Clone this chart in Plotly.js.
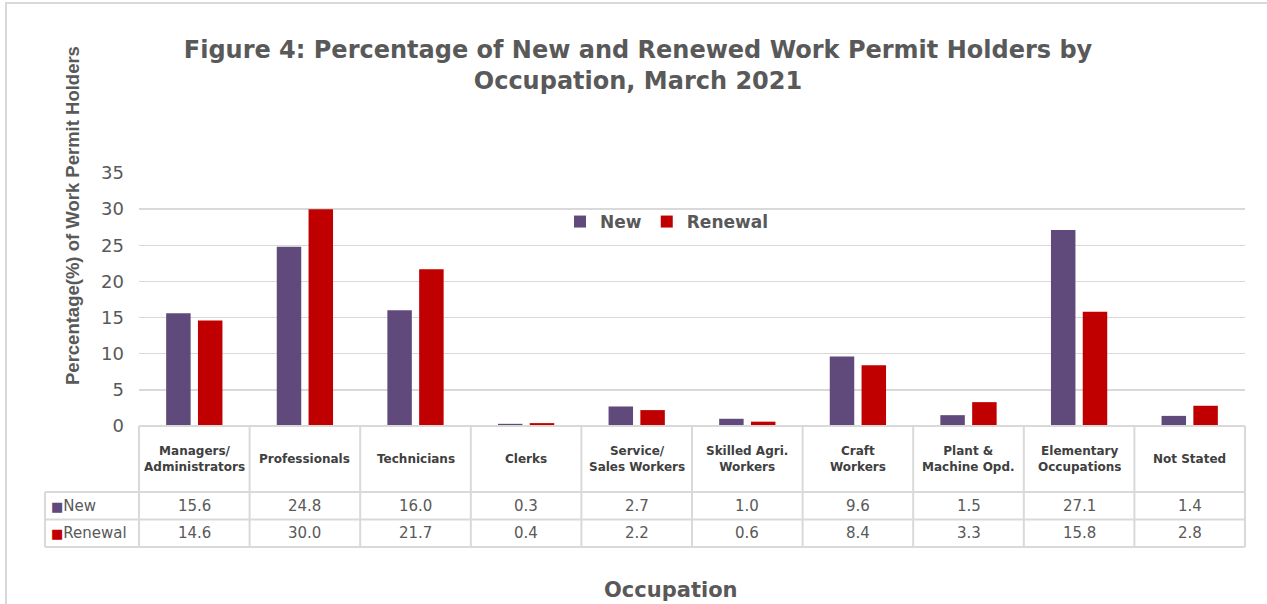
<!DOCTYPE html>
<html>
<head>
<meta charset="utf-8">
<script src="https://cdn.plot.ly/plotly-3.0.1.min.js"></script>
<style>html,body{margin:0;padding:0;background:#fff;}#chart{width:1267px;height:604px;}</style>
</head>
<body>
<div id="chart"></div>
<script>
// ---- data ----
var categories = ["Managers/<br>Administrators", "Professionals", "Technicians", "Clerks", "Service/<br>Sales Workers", "Skilled Agri.<br>Workers", "Craft<br>Workers", "Plant &<br>Machine Opd.", "Elementary<br>Occupations", "Not Stated"];
var newValues = [15.6, 24.8, 16.0, 0.3, 2.7, 1.0, 9.6, 1.5, 27.1, 1.4];
var renewalValues = [14.6, 30.0, 21.7, 0.4, 2.2, 0.6, 8.4, 3.3, 15.8, 2.8];
var seriesNames = ["New", "Renewal"];
var yTicks = [0, 5, 10, 15, 20, 25, 30, 35];

// ---- styling ----
var cNew = "#604A7B", cRen = "#C00000";
var txt = "#595959", grid = "#D9D9D9";
var FONT = "DejaVu Sans";
var W = 1267, H = 604, L = 139, R = 22, T = 173, B = 178;
var pw = W - L - R, ph = H - T - B;
function px2x(p) { return (p - L) / pw; }
function px2y(p) { return (H - B - p) / ph; }

var idx = categories.map(function (_, i) { return i; });
var traces = [
  {type: "bar", name: seriesNames[0], x: idx, y: newValues, marker: {color: cNew}, hoverinfo: "y"},
  {type: "bar", name: seriesNames[1], x: idx, y: renewalValues, marker: {color: cRen}, hoverinfo: "y"}
];

var shapes = [];
var ann = [];
var n = categories.length;
var lineStyle = {color: grid, width: 2};
// frame
shapes.push({type: "rect", xref: "paper", yref: "paper", x0: px2x(6), x1: px2x(1275), y0: px2y(3), y1: px2y(612), line: {color: grid, width: 2}});
// table vertical lines
for (var i = 0; i <= n; i++) {
  shapes.push({type: "line", xref: "paper", yref: "paper", x0: i / n, x1: i / n, y0: px2y(426), y1: px2y(547), line: lineStyle});
}
shapes.push({type: "line", xref: "paper", yref: "paper", x0: px2x(45), x1: px2x(45), y0: px2y(492), y1: px2y(547), line: lineStyle});
// horizontal lines
shapes.push({type: "line", xref: "paper", yref: "paper", x0: 0, x1: 1, y0: 0, y1: 0, line: lineStyle});
[492, 519.5, 547].forEach(function (p) {
  shapes.push({type: "line", xref: "paper", yref: "paper", x0: px2x(45), x1: 1, y0: px2y(p), y1: px2y(p), line: lineStyle});
});

// table text
for (var j = 0; j < n; j++) {
  var xc = (j + 0.5) / n;
  ann.push({xref: "paper", yref: "paper", x: xc, y: px2y(459), text: categories[j], showarrow: false,
    font: {family: FONT, size: 12, color: "#404040", weight: "bold"}, xanchor: "center", yanchor: "middle"});
  ann.push({xref: "paper", yref: "paper", x: xc, y: px2y(506), text: newValues[j].toFixed(1), showarrow: false,
    font: {family: FONT, size: 15, color: txt}, xanchor: "center", yanchor: "middle"});
  ann.push({xref: "paper", yref: "paper", x: xc, y: px2y(533), text: renewalValues[j].toFixed(1), showarrow: false,
    font: {family: FONT, size: 15, color: txt}, xanchor: "center", yanchor: "middle"});
}
ann.push({xref: "paper", yref: "paper", x: px2x(49), y: px2y(506), xanchor: "left", yanchor: "middle", showarrow: false,
  text: '<span style="color:' + cNew + ';font-size:13px">■</span>' + seriesNames[0], font: {family: FONT, size: 15, color: txt}});
ann.push({xref: "paper", yref: "paper", x: px2x(49), y: px2y(533), xanchor: "left", yanchor: "middle", showarrow: false,
  text: '<span style="color:' + cRen + ';font-size:13px">■</span>' + seriesNames[1], font: {family: FONT, size: 15, color: txt}});
// axis titles
ann.push({xref: "paper", yref: "paper", x: px2x(72), y: px2y(216), textangle: -90, showarrow: false, xanchor: "center", yanchor: "middle",
  text: "Percentage(%) of Work Permit Holders", font: {family: "Liberation Sans", size: 18.5, color: txt, weight: "bold"}});
ann.push({xref: "paper", yref: "paper", x: px2x(671), y: px2y(590), showarrow: false, xanchor: "center", yanchor: "middle",
  text: "Occupation", font: {family: FONT, size: 21, color: txt, weight: "bold"}});

var layout = {
  width: W, height: H,
  margin: {l: L, r: R, t: T, b: B},
  paper_bgcolor: "#fff", plot_bgcolor: "#fff",
  title: {text: "Figure 4: Percentage of New and Renewed Work Permit Holders by<br>Occupation, March 2021",
    x: 638 / W, xanchor: "center", y: 1 - 58 / H, yanchor: "middle",
    font: {family: FONT, size: 24, color: txt, weight: "bold"}},
  barmode: "group", bargap: 0.425, bargroupgap: 0.23,
  xaxis: {range: [-0.5, n - 0.5], showticklabels: false, showgrid: false, zeroline: false, showline: false, ticks: "", fixedrange: true},
  yaxis: {range: [0, 35], tickvals: yTicks, ticktext: yTicks.map(String), showgrid: true, gridcolor: grid, gridwidth: 1.5,
    zeroline: false, showline: false, ticks: "", ticklabelstandoff: 14,
    tickfont: {family: FONT, size: 18, color: txt}, fixedrange: true},
  showlegend: true,
  legend: {orientation: "h", x: px2x(560), xanchor: "left", y: px2y(222), yanchor: "middle",
    font: {family: FONT, size: 17, color: txt, weight: "bold"}, bgcolor: "rgba(0,0,0,0)", itemwidth: 30, tracegroupgap: 0},
  shapes: shapes,
  annotations: ann
};

Plotly.newPlot("chart", traces, layout, {displayModeBar: false, staticPlot: true});
</script>
</body>
</html>
